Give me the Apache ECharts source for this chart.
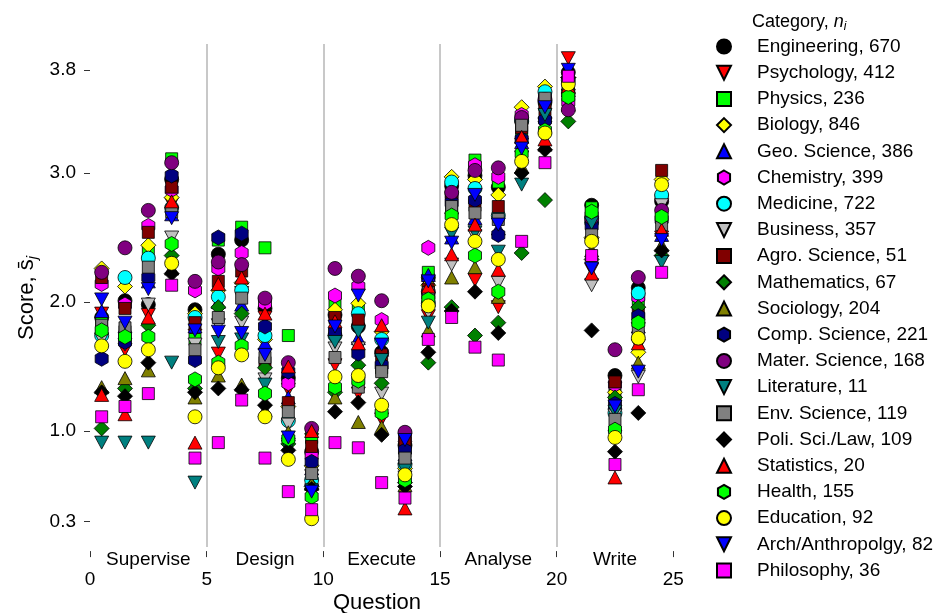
<!DOCTYPE html>
<html>
<head>
<meta charset="utf-8">
<script src="https://cdn.jsdelivr.net/npm/echarts@6/dist/echarts.min.js"></script>
<style>
  html, body { margin: 0; padding: 0; background: #ffffff; }
  #chart { width: 937px; height: 613px; }
</style>
</head>
<body>
<div id="chart"></div>
<script>
// ---- data ----
const questions = [0.5, 1.5, 2.5, 3.5, 4.5, 5.5, 6.5, 7.5, 8.5, 9.5, 10.5, 11.5, 12.5,
  13.5, 14.5, 15.5, 16.5, 17.5, 18.5, 19.5, 20.5, 21.5, 22.5, 23.5, 24.5];
const sectionNames = ['Supervise', 'Design', 'Execute', 'Analyse', 'Write'];
const sectionCentres = [2.5, 7.5, 12.5, 17.5, 22.5];
const sectionLabelY = 0;
const sectionBounds = [5, 10, 15, 20];
const yTickValues = [0.3, 1.0, 2.0, 3.0, 3.8];
const xTickValues = [0, 5, 10, 15, 20, 25];

const categories = ['Engineering', 'Psychology', 'Physics', 'Biology', 'Geo. Science',
  'Chemistry', 'Medicine', 'Business', 'Agro. Science', 'Mathematics', 'Sociology',
  'Comp. Science', 'Mater. Science', 'Literature', 'Env. Science', 'Poli. Sci./Law',
  'Statistics', 'Health', 'Education', 'Arch/Anthropolgy', 'Philosophy'];
const counts = [670, 412, 236, 846, 386, 399, 722, 357, 51, 67, 204, 221, 168, 11,
  119, 109, 20, 155, 92, 82, 36];

// mean score per question for each category
const engineering = [1.88, 2.01, 1.98, 2.95, 1.94, 2.37, 2.48, 1.95, 1.41, 0.84, 1.90, 1.81, 1.61, 0.89, 2.19, 2.90, 2.98, 2.89, 3.40, 3.55, 3.78, 2.75, 1.43, 2.11, 2.78];
const psychology  = [1.91, 1.63, 1.90, 2.76, 1.74, 1.60, 2.07, 1.88, 1.32, 0.93, 1.51, 1.29, 1.09, 0.87, 1.89, 2.64, 2.17, 1.96, 3.22, 3.35, 3.89, 2.25, 1.33, 1.66, 2.50];
const physics     = [1.86, 1.77, 2.40, 3.11, 1.71, 2.48, 2.58, 2.42, 1.74, 0.95, 1.98, 1.95, 1.49, 0.84, 2.23, 2.70, 3.10, 2.93, 3.32, 3.53, 3.64, 2.73, 1.28, 2.02, 2.69];
const biology     = [2.26, 2.12, 2.44, 2.81, 1.91, 2.09, 2.15, 1.71, 1.19, 0.73, 1.94, 1.99, 1.77, 0.71, 2.13, 2.97, 2.95, 2.83, 3.51, 3.67, 3.74, 2.50, 1.30, 1.61, 2.95];
const geoScience  = [1.93, 1.81, 2.16, 2.68, 1.81, 2.00, 1.98, 1.68, 1.26, 0.71, 1.79, 1.72, 1.63, 0.82, 2.21, 2.50, 2.65, 2.57, 3.24, 3.47, 3.64, 2.54, 1.22, 1.81, 2.52];
const chemistry   = [2.14, 1.98, 2.59, 2.87, 2.09, 2.26, 2.38, 1.99, 1.37, 0.81, 2.05, 2.12, 1.86, 0.95, 2.42, 2.83, 3.06, 2.97, 3.45, 3.60, 3.55, 2.67, 1.36, 2.04, 2.81];
const medicine    = [1.74, 2.19, 2.34, 2.73, 1.88, 2.04, 2.09, 1.74, 1.08, 0.62, 1.74, 1.91, 1.71, 0.74, 1.99, 2.93, 2.88, 2.67, 3.41, 3.63, 3.72, 2.62, 1.14, 2.07, 2.83];
const business    = [1.71, 1.67, 1.98, 2.50, 1.67, 1.82, 1.84, 1.40, 1.05, 0.65, 1.64, 1.64, 1.29, 0.64, 1.92, 2.29, 2.51, 2.15, 3.12, 3.38, 3.57, 2.13, 1.12, 1.42, 2.75];
const agroScience = [2.19, 1.95, 2.54, 2.89, 1.84, 2.16, 2.24, 1.53, 1.22, 0.88, 1.88, 1.86, 1.59, 0.91, 2.10, 2.81, 2.75, 2.74, 3.35, 3.49, 3.68, 2.64, 1.38, 1.92, 3.02];
const mathematics = [1.02, 1.33, 1.82, 2.36, 1.33, 1.96, 1.91, 1.49, 0.90, 0.57, 1.30, 1.51, 1.37, 0.60, 1.53, 1.96, 1.74, 1.84, 2.38, 2.79, 3.40, 2.33, 1.26, 1.96, 2.36];
const sociology   = [1.34, 1.41, 1.47, 2.26, 1.26, 1.43, 1.36, 1.16, 0.99, 0.59, 1.26, 1.07, 1.03, 0.58, 1.78, 2.19, 2.27, 2.04, 3.05, 3.22, 3.53, 2.40, 1.05, 1.53, 2.44];
const compScience = [1.56, 1.69, 2.19, 2.98, 1.55, 2.50, 2.53, 1.81, 1.46, 0.76, 1.77, 1.60, 1.51, 0.85, 2.05, 2.77, 2.79, 2.52, 3.26, 3.41, 3.62, 2.59, 1.21, 1.89, 2.64];
const materScience= [2.23, 2.42, 2.71, 3.08, 2.16, 2.31, 2.29, 2.03, 1.53, 1.02, 2.26, 2.20, 2.01, 0.99, 2.08, 2.85, 3.02, 3.04, 3.43, 3.57, 3.49, 2.65, 1.63, 2.19, 2.71];
const literature  = [0.91, 0.91, 0.91, 1.53, 0.60, 1.69, 1.71, 1.36, 0.88, 0.54, 1.69, 1.77, 1.55, 0.70, 1.84, 2.53, 2.54, 2.39, 2.91, 3.45, 3.60, 2.61, 1.15, 1.79, 2.31];
const envScience  = [1.82, 1.80, 2.27, 2.70, 1.63, 1.88, 2.03, 1.57, 1.15, 0.67, 1.57, 1.34, 1.46, 0.79, 2.07, 2.74, 2.69, 2.64, 3.37, 3.58, 3.66, 2.52, 1.09, 1.77, 2.60];
const poliSciLaw  = [1.30, 1.27, 1.53, 2.22, 1.30, 1.33, 1.32, 1.20, 0.85, 0.55, 1.15, 1.22, 0.97, 0.57, 1.61, 1.93, 2.08, 1.76, 3.00, 3.18, 3.74, 1.78, 0.84, 1.14, 2.40];
const statistics  = [1.28, 1.13, 1.88, 2.78, 0.91, 2.14, 2.19, 1.91, 1.50, 1.00, 1.85, 1.68, 1.82, 0.40, 2.12, 2.37, 2.60, 2.25, 3.28, 3.26, 3.67, 2.22, 0.64, 1.68, 2.56];
const health      = [1.78, 1.73, 1.73, 2.45, 1.40, 1.53, 1.66, 1.29, 0.94, 0.49, 1.34, 1.39, 1.14, 0.62, 2.02, 2.67, 2.36, 2.08, 3.15, 3.33, 3.59, 2.70, 1.01, 1.84, 2.66];
const education   = [1.66, 1.54, 1.63, 2.30, 1.11, 1.49, 1.59, 1.11, 0.78, 0.32, 1.42, 1.43, 1.20, 0.66, 1.97, 2.60, 2.47, 2.33, 3.09, 3.31, 3.69, 2.47, 0.95, 1.72, 2.91];
const archAnthro  = [2.02, 1.84, 2.10, 2.65, 1.78, 1.77, 1.76, 1.59, 0.95, 0.53, 1.81, 2.05, 1.67, 0.93, 2.16, 2.46, 2.83, 2.60, 3.19, 3.51, 3.80, 2.26, 1.19, 1.46, 2.48];
const philosophy  = [1.11, 1.19, 1.29, 2.13, 0.79, 0.91, 1.24, 0.79, 0.53, 0.39, 0.91, 0.87, 0.60, 0.48, 1.71, 1.88, 1.65, 1.55, 2.47, 3.08, 3.75, 2.36, 0.74, 1.32, 2.23];

const seriesValues = [engineering, psychology, physics, biology, geoScience, chemistry,
  medicine, business, agroScience, mathematics, sociology, compScience, materScience,
  literature, envScience, poliSciLaw, statistics, health, education, archAnthro, philosophy];

// ---- marker styles ----
const DOWN = 'path://M0,0 L2,0 L1,2 Z';
const HEX = 'path://M0.866,0 L1.732,0.5 L1.732,1.5 L0.866,2 L0,1.5 L0,0.5 Z';
const markerStyles = [
  { symbol: 'circle',   color: '#000000', size: 14 },
  { symbol: DOWN,       color: '#ff0000', size: [14, 13] },
  { symbol: 'rect',     color: '#00ff00', size: 12 },
  { symbol: 'diamond',  color: '#ffff00', size: 15 },
  { symbol: 'triangle', color: '#0000ff', size: [14, 13] },
  { symbol: HEX,        color: '#ff00ff', size: [13, 15] },
  { symbol: 'circle',   color: '#00ffff', size: 14 },
  { symbol: DOWN,       color: '#c0c0c0', size: [14, 13] },
  { symbol: 'rect',     color: '#800000', size: 12 },
  { symbol: 'diamond',  color: '#008000', size: 15 },
  { symbol: 'triangle', color: '#808000', size: [14, 13] },
  { symbol: HEX,        color: '#000080', size: [13, 15] },
  { symbol: 'circle',   color: '#800080', size: 14 },
  { symbol: DOWN,       color: '#008080', size: [14, 13] },
  { symbol: 'rect',     color: '#808080', size: 12 },
  { symbol: 'diamond',  color: '#000000', size: 15 },
  { symbol: 'triangle', color: '#ff0000', size: [14, 13] },
  { symbol: HEX,        color: '#00ff00', size: [13, 15] },
  { symbol: 'circle',   color: '#ffff00', size: 14 },
  { symbol: DOWN,       color: '#0000ff', size: [14, 13] },
  { symbol: 'rect',     color: '#ff00ff', size: 12 }
];

const FONT = '"Liberation Sans", Arial, sans-serif';
const legendNames = categories.map((c, i) => c + ', ' + counts[i]);

const series = [];
// section separators
series.push({
  type: 'scatter', name: '__sections', data: [], z: 1, silent: true,
  markLine: {
    silent: true, symbol: ['none', 'none'], label: { show: false },
    lineStyle: { color: '#c8c8c8', width: 2, type: 'solid' },
    emphasis: { disabled: true },
    data: sectionBounds.map(v => ({ xAxis: v }))
  }
});
seriesValues.forEach((vals, i) => {
  const st = markerStyles[i];
  series.push({
    type: 'scatter', name: legendNames[i], z: 2, clip: false,
    symbol: st.symbol, symbolSize: st.size,
    itemStyle: { color: st.color, borderColor: '#000', borderWidth: 0.8, opacity: 1 },
    emphasis: { disabled: true },
    data: questions.map((q, j) => [q, vals[j]])
  });
});

const chart = echarts.init(document.getElementById('chart'), null, { renderer: 'canvas' });
const baseGraphics = [
  {
    type: 'text', left: 752, top: 13,
    style: {
      text: 'Category, {it|n}{sub|i}',
      font: '18px ' + FONT, fill: '#000',
      rich: {
        it: { fontStyle: 'italic', fontSize: 18, fontFamily: FONT },
        sub: { fontStyle: 'italic', fontSize: 12, fontFamily: FONT, padding: [9, 0, 0, 0] }
      }
    }
  },
  {
    type: 'text', x: 377, y: 603,
    style: { text: 'Question', font: '22px ' + FONT, fill: '#000', align: 'center', verticalAlign: 'middle' }
  },
  {
    type: 'text', x: 27, y: 298, rotation: Math.PI / 2,
    style: {
      text: 'Score, s\u0304{sub|j}', font: '22px ' + FONT, fill: '#000',
      align: 'center', verticalAlign: 'middle',
      rich: { sub: { fontStyle: 'italic', fontSize: 15, fontFamily: FONT, padding: [11, 0, 0, 0] } }
    }
  }
];

chart.setOption({
  backgroundColor: '#ffffff',
  animation: false,
  grid: { left: 90, width: 583.3, top: 44, height: 503.1, containLabel: false },
  xAxis: {
    type: 'value', min: 0, max: 25, interval: 5, offset: 4,
    axisLine: { show: false },
    axisTick: { show: true, length: 6, lineStyle: { color: '#333', width: 1 } },
    axisLabel: { fontFamily: FONT, fontSize: 19, color: '#000', margin: 19 },
    splitLine: { show: false }
  },
  yAxis: {
    type: 'value', min: 0.1, max: 4.0, offset: 3,
    axisLine: { show: false },
    axisTick: { show: true, length: 6, customValues: yTickValues, lineStyle: { color: '#333', width: 1 } },
    axisLabel: { customValues: yTickValues, formatter: v => v.toFixed(1),
      fontFamily: FONT, fontSize: 19, color: '#000', margin: 11 },
    splitLine: { show: false }
  },
  legend: {
    orient: 'vertical', left: 716, top: 37, padding: 0,
    itemWidth: 14, itemHeight: 14, itemGap: 7.2,
    data: legendNames,
    textStyle: { fontFamily: FONT, fontSize: 19, color: '#000', lineHeight: 19, padding: [0, 0, 0, 21] },
    selectedMode: false, inactiveColor: '#000'
  },
  graphic: baseGraphics,
  series: series
});

// section names, placed along the bottom through the axis scales
const sectionGraphics = sectionNames.map((name, i) => {
  const p = chart.convertToPixel({ gridIndex: 0 }, [sectionCentres[i], sectionLabelY]);
  return {
    type: 'text', x: p[0], y: p[1],
    style: { text: name, font: '19px ' + FONT, fill: '#000', align: 'center', verticalAlign: 'middle' }
  };
});
chart.setOption({ graphic: baseGraphics.concat(sectionGraphics) });
</script>
</body>
</html>
